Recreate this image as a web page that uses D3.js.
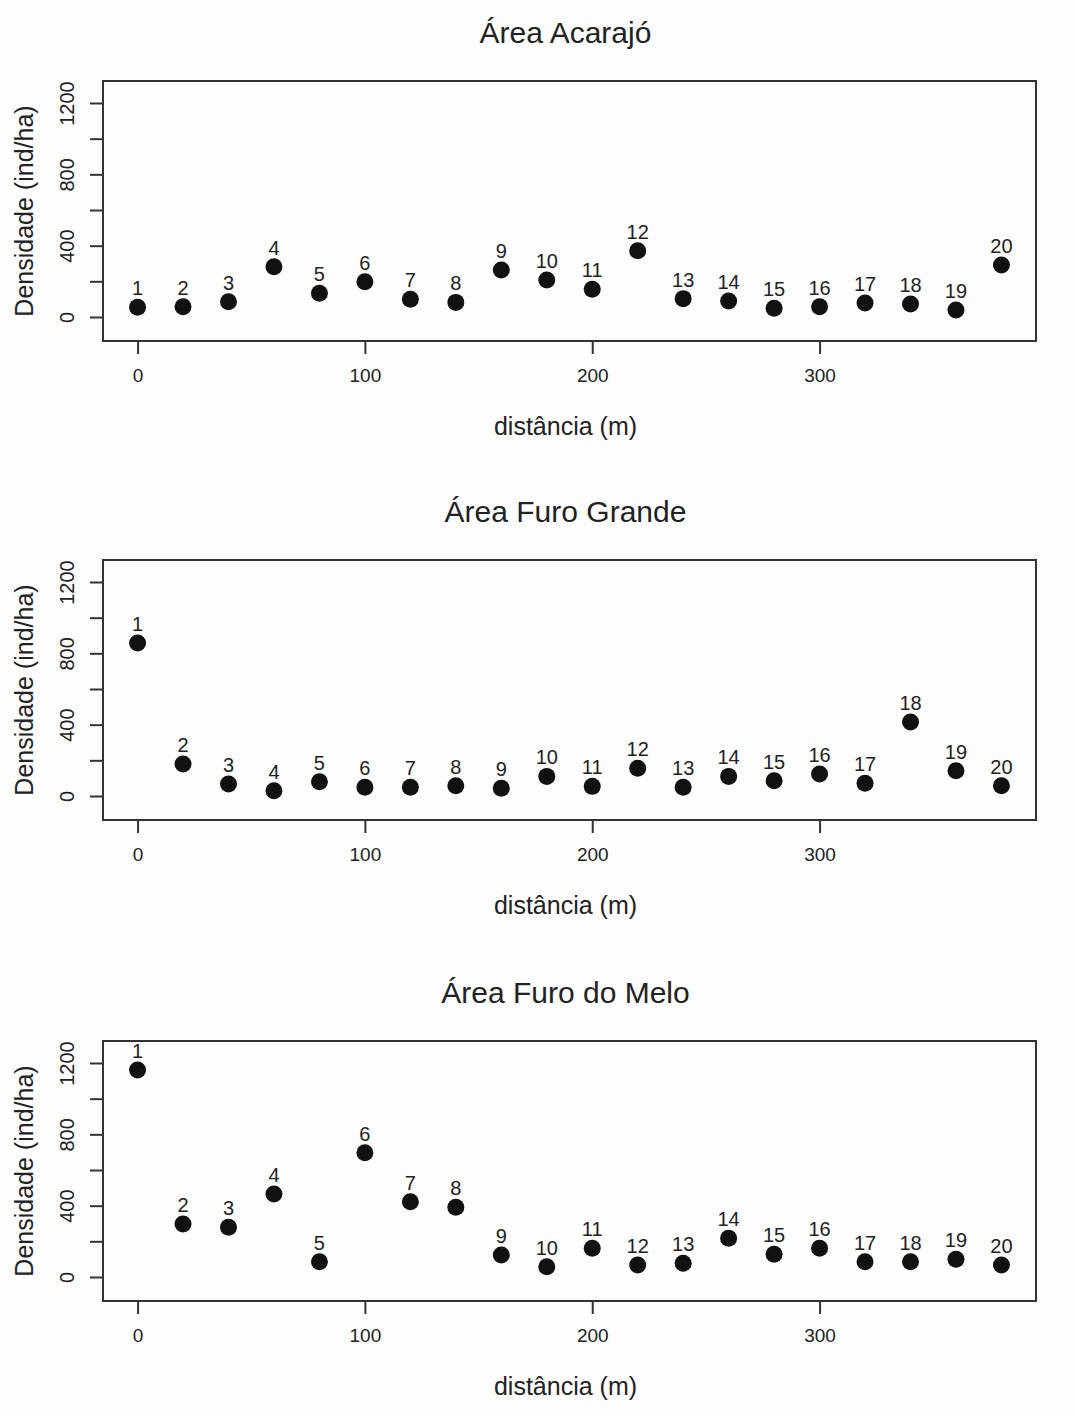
<!DOCTYPE html>
<html>
<head>
<meta charset="utf-8">
<script src="https://cdn.jsdelivr.net/npm/d3@7"></script>
<style>
  body { margin: 0; background: #fdfdfd; }
  text { font-family: "Liberation Sans", Arial, sans-serif; fill: #222; }
</style>
</head>
<body>
<div id="chart"></div>
<script>
// data
const distances = [0, 20, 40, 60, 80, 100, 120, 140, 160, 180, 200, 220, 240, 260, 280, 300, 320, 340, 360, 380];
const pointLabels = ["1", "2", "3", "4", "5", "6", "7", "8", "9", "10", "11", "12", "13", "14", "15", "16", "17", "18", "19", "20"];
const panelTitles = ["Área Acarajó", "Área Furo Grande", "Área Furo do Melo"];
const acarajo = [55, 58, 86, 282, 133, 198, 99, 82, 264, 208, 155, 372, 103, 90, 49, 58, 78, 73, 39, 292];
const furoGrande = [858, 179, 67, 30, 80, 49, 49, 58, 43, 110, 54, 155, 49, 110, 85, 123, 71, 415, 141, 58];
const furoMelo = [1161, 297, 279, 465, 86, 697, 422, 391, 123, 58, 161, 67, 77, 217, 127, 161, 86, 86, 99, 67];
const xTicks = [0, 100, 200, 300];
const yTicks = [0, 200, 400, 600, 800, 1000, 1200];
const yTickLabels = ["0", "", "400", "", "800", "", "1200"];
const xLabel = "distância (m)";
const yLabel = "Densidade (ind/ha)";

const W = 1076, H = 1417;
const left = 103, right = 1036, boxH = 260;
const panelTops = [81, 560, 1041];
const series = [acarajo, furoGrande, furoMelo];

const svg = d3.select("#chart").append("svg")
  .attr("width", W)
  .attr("height", H);

// x scale, R style 4% padding around 0..380
const x = d3.scaleLinear()
  .domain([-15.2, 395.2])
  .range([left, right]);

// y scale, 0 and 1200 placed as in the picture
const y = d3.scaleLinear()
  .domain([0, 1200])
  .range([236, 22]);

series.forEach(function (values, i) {
  const g = svg.append("g")
    .attr("transform", `translate(0,${panelTops[i]})`);

  // title
  g.append("text")
    .attr("x", (left + right) / 2 - 4)
    .attr("y", -38)
    .attr("text-anchor", "middle")
    .style("font-size", "30px")
    .text(panelTitles[i]);

  // box
  g.append("rect")
    .attr("x", left)
    .attr("y", 0)
    .attr("width", right - left)
    .attr("height", boxH)
    .attr("fill", "none")
    .attr("stroke", "#333")
    .attr("stroke-width", 2);

  // x axis
  const xAxis = g.append("g")
    .attr("transform", `translate(0,${boxH})`)
    .call(d3.axisBottom(x).tickValues(xTicks).tickSize(13).tickPadding(15));
  xAxis.select(".domain").remove();
  xAxis.selectAll("line").attr("stroke", "#333").attr("stroke-width", 2);
  xAxis.selectAll("text")
    .style("font-size", "19px")
    .attr("fill", "#222");

  // y axis, rotated labels like R
  const yAxis = g.append("g")
    .attr("transform", `translate(${left},0)`)
    .call(d3.axisLeft(y).tickValues(yTicks).tickSize(13)
      .tickFormat(function (d, k) { return yTickLabels[k]; }));
  yAxis.select(".domain").remove();
  yAxis.selectAll("line").attr("stroke", "#333").attr("stroke-width", 2);
  yAxis.selectAll("text")
    .attr("x", null)
    .attr("dy", null)
    .attr("text-anchor", "middle")
    .attr("transform", "translate(-29,0) rotate(-90)")
    .style("font-size", "20px")
    .attr("fill", "#222");

  // axis titles
  g.append("text")
    .attr("x", (left + right) / 2 - 4)
    .attr("y", boxH + 94)
    .attr("text-anchor", "middle")
    .style("font-size", "25px")
    .text(xLabel);

  g.append("text")
    .attr("transform", `translate(33,${boxH / 2}) rotate(-90)`)
    .attr("text-anchor", "middle")
    .style("font-size", "25px")
    .text(yLabel);

  // points
  g.selectAll("circle.pt")
    .data(values)
    .enter()
    .append("circle")
    .attr("class", "pt")
    .attr("cx", function (d, k) { return x(distances[k]); })
    .attr("cy", function (d) { return y(d); })
    .attr("r", 8.5)
    .attr("fill", "#111");

  // point numbers above
  g.selectAll("text.lab")
    .data(values)
    .enter()
    .append("text")
    .attr("class", "lab")
    .attr("x", function (d, k) { return x(distances[k]); })
    .attr("y", function (d) { return y(d) - 12; })
    .attr("text-anchor", "middle")
    .style("font-size", "20px")
    .text(function (d, k) { return pointLabels[k]; });
});
</script>
</body>
</html>
